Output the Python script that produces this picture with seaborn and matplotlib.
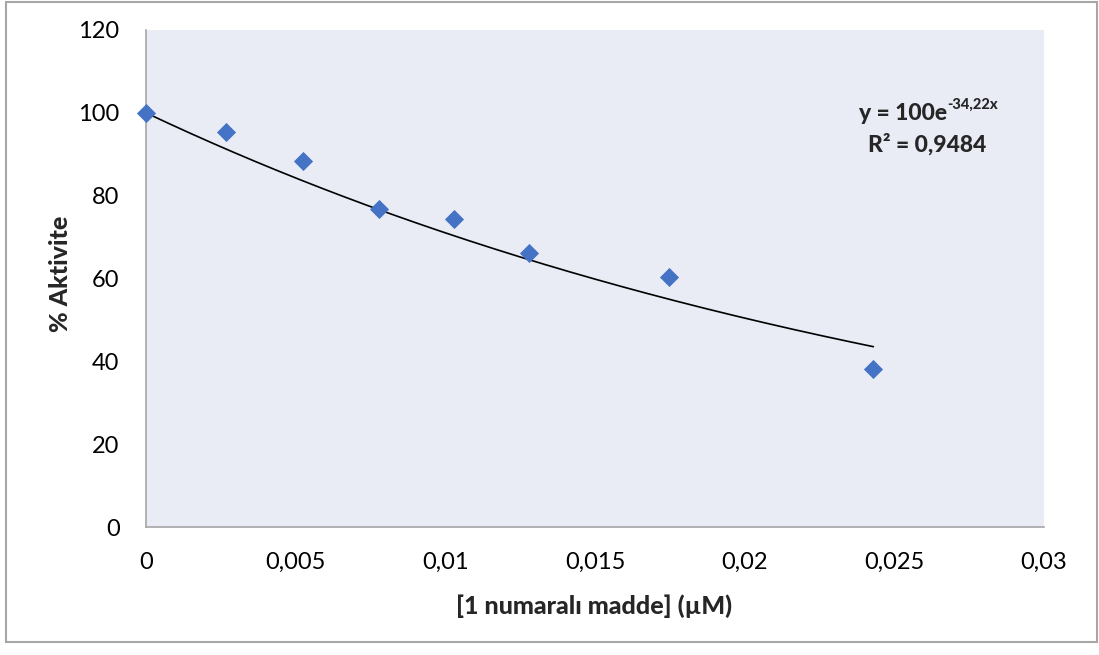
import numpy as np
import pandas as pd
import matplotlib
matplotlib.use("Agg")
import matplotlib.pyplot as plt
import seaborn as sns
from matplotlib.patches import Rectangle

# ---- data ----
concentration = [0.0, 0.00267, 0.00525, 0.00778, 0.0103, 0.0128, 0.01747, 0.0243]
activity = [100.0, 95.4, 88.4, 76.8, 74.4, 66.2, 60.4, 38.1]
fit_a = 100.0
fit_b = -34.22
r_squared = "0,9484"
x_ticks = [0, 0.005, 0.01, 0.015, 0.02, 0.025, 0.03]
x_tick_labels = ["0", "0,005", "0,01", "0,015", "0,02", "0,025", "0,03"]
y_ticks = [0, 20, 40, 60, 80, 100, 120]
y_tick_labels = ["0", "20", "40", "60", "80", "100", "120"]
x_label = "[1 numaralı madde] (µM)"
y_label = "% Aktivite"

sns.set_theme(style="white")
plt.rcParams["font.family"] = ["Lato", "DejaVu Sans"]

W, H = 1099, 655
fig = plt.figure(figsize=(W / 100, H / 100), dpi=100)
ax = fig.add_axes([146 / W, 1 - 527 / H, (1044 - 146) / W, (527 - 30) / H])
ax.set_facecolor("#E9EBF5")

df = pd.DataFrame({"x": concentration, "y": activity})
# trendline
xs = np.linspace(min(concentration), max(concentration), 200)
fit = pd.DataFrame({"x": xs, "y": fit_a * np.exp(fit_b * xs)})
sns.lineplot(data=fit, x="x", y="y", ax=ax, color="black", linewidth=1.2, zorder=2)
sns.scatterplot(data=df, x="x", y="y", ax=ax, marker="D", s=95, color="#4472C4",
                linewidth=0, zorder=3, clip_on=False)

ax.set_xlim(0, 0.03)
ax.set_ylim(0, 120)
ax.set_xticks(x_ticks)
ax.set_xticklabels(x_tick_labels)
ax.set_yticks(y_ticks)
ax.set_yticklabels(y_tick_labels)
ax.tick_params(axis="both", length=0, labelsize=17, colors="black")
ax.tick_params(axis="x", pad=18)
ax.tick_params(axis="y", pad=19)
for s in ["top", "right"]:
    ax.spines[s].set_visible(False)
for s in ["left", "bottom"]:
    ax.spines[s].set_color("#A6A6A6")
    ax.spines[s].set_linewidth(1.2)
ax.grid(False)

ax.set_xlabel("")
ax.set_ylabel("")
fig.text(594 / W, 1 - 606 / H, x_label, ha="center", va="center",
         fontsize=18, fontweight="black")
fig.text(60 / W, 1 - 274 / H, y_label, ha="center", va="center",
         fontsize=18, fontweight="black", rotation=90)

# equation
fig.text(947 / W, 1 - 120 / H, "y = 100e", ha="right", va="baseline",
         fontsize=16.5, fontweight="black")
fig.text(947 / W, 1 - 109 / H, "-34,22x", ha="left", va="baseline",
         fontsize=10.5, fontweight="black")
fig.text(927 / W, 1 - 144 / H, "R² = " + r_squared, ha="center", va="center",
         fontsize=16.5, fontweight="black")

# outer border
fig.patches.append(Rectangle((6 / W, 1 - 642 / H), (1097 - 6) / W, (642 - 2) / H,
                             transform=fig.transFigure, fill=False,
                             edgecolor="#A6A6A6", linewidth=1.5))

fig.savefig("out.png", dpi=100)
